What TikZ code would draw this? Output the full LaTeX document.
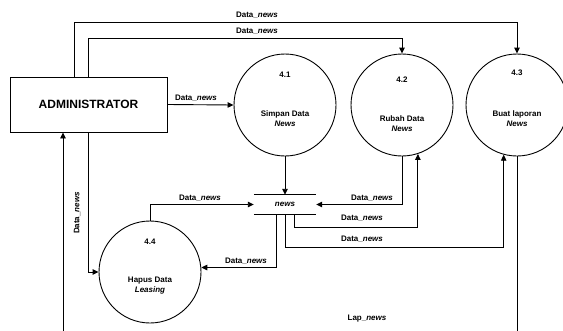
\documentclass[tikz,border=0pt]{standalone}
\usepackage{fontspec}
\setmainfont{Liberation Sans}
\usetikzlibrary{arrows.meta}
\tikzset{
  ln/.style={line width=0.9pt, draw=black},
  arr/.style={ln, -{Triangle[length=6pt,width=5.5pt]}},
  proc/.style={circle, draw=black, line width=0.9pt, minimum size=102pt, inner sep=0pt},
  box/.style={rectangle, draw=black, line width=0.9pt, minimum width=157pt, minimum height=55pt, inner sep=0pt, font=\bfseries\fontsize{12}{14}\selectfont},
  lbl/.style={font=\bfseries\fontsize{8}{10}\selectfont, inner sep=0pt},
  ptxt/.style={font=\bfseries\fontsize{8}{10}\selectfont, align=center, inner sep=0pt},
}
\newcommand{\dn}{Data\_\textit{news}}
\begin{document}
\begin{tikzpicture}[x=1pt,y=-1pt]
\clip (0,0) rectangle (563,330);
\fill[white] (0,0) rectangle (563,330);

% entity
\node[box] (adm) at (88.5,104.5) {ADMINISTRATOR};

% processes
\node[proc] (p1) at (285,105) {};
\node[proc] (p2) at (402,105) {};
\node[proc] (p3) at (517,105) {};
\node[proc] (p4) at (150,272) {};

\node[ptxt] (n1) at (285,75) {4.1};
\node[ptxt] (t1) at (285,118.5) {Simpan Data\\\textit{News}};
\node[ptxt] (n2) at (402,80) {4.2};
\node[ptxt] (t2) at (402,124) {Rubah Data\\\textit{News}};
\node[ptxt] (n3) at (517,73) {4.3};
\node[ptxt] (t3) at (517,119) {Buat laporan\\\textit{News}};
\node[ptxt] (n4) at (150,242) {4.4};
\node[ptxt] (t4) at (150,286) {Hapus Data\\\textit{Leasing}};

% data store
\node[minimum width=62pt, minimum height=19pt, inner sep=0pt, font=\bfseries\itshape\fontsize{8}{10}\selectfont] (st) at (285,204.5) {news};
\draw[ln] (st.north west) -- (st.north east);
\draw[ln] (st.south west) -- (st.south east);

% connectors
\draw[arr] (adm.east) -- (p1.west);
\draw[arr] ([xshift=-14.5pt]adm.north) -- ++(0,-54) -| (p3.north);
\draw[arr] ([xshift=-0.5pt]adm.north) -- ++(0,-38) -| (p2.north);
\draw[arr] (p1.south) -- (st.north);
\draw[arr] (p2.south) |- (st.east);
\draw[arr] ([xshift=9pt]st.south) -- ++(0,13) -| (p2.-72.5);
\draw[arr] (st.south) -- ++(0,33) -| (p3.-105.4);
\draw[arr] (p3.-89) -- ++(0,250) -| ([xshift=-25.5pt]adm.south);
\draw[arr] ([xshift=-9pt]st.south) |- (p4.5.6);
\draw[arr] (p4.north) |- (st.west);
\draw[arr] (adm.south) |- (p4.west);

% labels
\node[lbl] (l1) at (196,98) {\dn};
\node[lbl] (l2) at (257,15) {\dn};
\node[lbl] (l3) at (257,31) {\dn};
\node[lbl] (l4) at (372,198) {\dn};
\node[lbl] (l5) at (362,218) {\dn};
\node[lbl] (l6) at (362,239) {\dn};
\node[lbl] (l7) at (246,261) {\dn};
\node[lbl] (l8) at (200,198) {\dn};
\node[lbl, rotate=90] (l9) at (77,213) {\dn};
\node[lbl] (l10) at (367,319) {Lap\_\textit{news}};
\end{tikzpicture}
\end{document}
